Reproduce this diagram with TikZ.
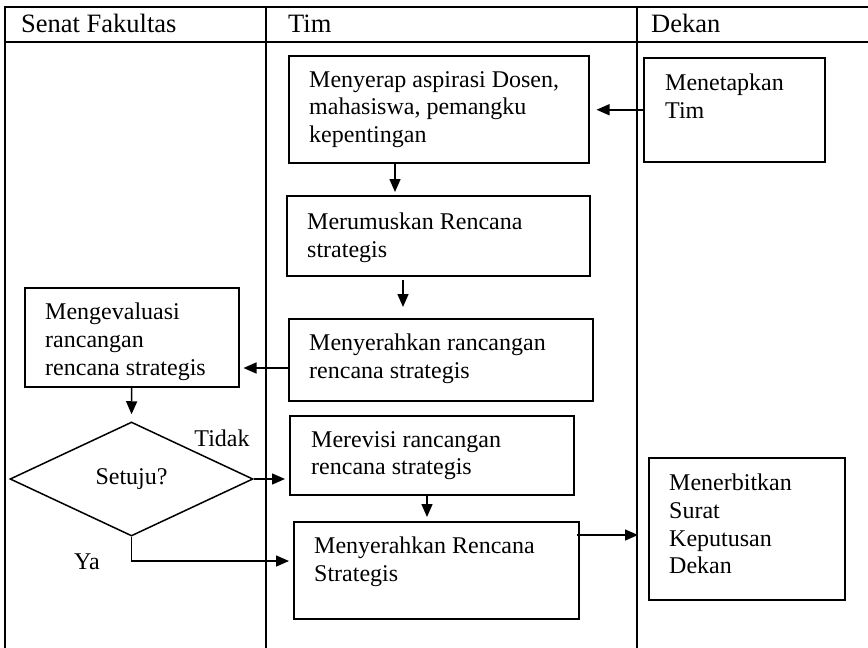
\documentclass[tikz,border=0pt]{standalone}
\usepackage{fontspec}
\setmainfont{Liberation Serif}
\usetikzlibrary{arrows.meta,shapes.geometric}

\tikzset{
  lane/.style={line width=2pt, line cap=rect},
  box/.style={draw, line width=1.5pt, rectangle, inner sep=0pt, anchor=north west},
  txt/.style={inner sep=0pt, align=left, anchor=north west,
              font=\fontsize{24}{27.6}\selectfont},
  head/.style={inner sep=0pt, anchor=base west,
               font=\fontsize{26.5}{30}\selectfont},
  arr/.style={line width=1.5pt, -{Triangle[length=13pt,width=11pt]}},
}

\begin{document}
\begin{tikzpicture}[x=1pt,y=-1pt]
\useasboundingbox (0,0) rectangle (868,648);

% swimlane table
\draw[lane] (5,7) -- (868,7);
\draw[lane] (5,42) -- (868,42);
\draw[lane] (5,7) -- (5,648);
\draw[lane] (266,7) -- (266,648);
\draw[lane] (637,7) -- (637,648);

\node[head] (hsenat) at (21,32) {Senat Fakultas};
\node[head] (htim)   at (288,32) {Tim};
\node[head] (hdekan) at (651,32) {Dekan};

% boxes
\node[box, minimum width=300, minimum height=107] (serap)   at (288,55)  {};
\node[box, minimum width=303, minimum height=80]  (rumus)   at (286,195) {};
\node[box, minimum width=304, minimum height=82]  (serah)   at (288,318) {};
\node[box, minimum width=284, minimum height=79]  (revisi)  at (289,415) {};
\node[box, minimum width=285, minimum height=97]  (rencana) at (293,521) {};
\node[box, minimum width=214, minimum height=99]  (evaluasi) at (24,287) {};
\node[box, minimum width=181, minimum height=104] (tetap)   at (643,57)  {};
\node[box, minimum width=196, minimum height=142] (terbit)  at (648,457) {};

\node[draw, line width=1.5pt, diamond, inner sep=0pt, aspect=2.13,
      minimum width=243, minimum height=114,
      font=\fontsize{24}{27.6}\selectfont] (setuju) at (131.5,479) {Setuju?};

% box texts, first baseline about 32 below the box top
\node[txt] (tserap) at ([shift={(21,16)}]serap.north west)
  {Menyerap aspirasi Dosen,\\mahasiswa, pemangku\\kepentingan};
\node[txt] (trumus) at ([shift={(21,18)}]rumus.north west)
  {Merumuskan Rencana\\strategis};
\node[txt] (tserah) at ([shift={(21,16)}]serah.north west)
  {Menyerahkan rancangan\\rencana strategis};
\node[txt] (trevisi) at ([shift={(22,16)}]revisi.north west)
  {Merevisi rancangan\\rencana strategis};
\node[txt] (trencana) at ([shift={(21,16)}]rencana.north west)
  {Menyerahkan Rencana\\Strategis};
\node[txt] (tevaluasi) at ([shift={(21,16)}]evaluasi.north west)
  {Mengevaluasi\\rancangan\\rencana strategis};
\node[txt] (ttetap) at ([shift={(22,17)}]tetap.north west)
  {Menetapkan\\Tim};
\node[txt] (tterbit) at ([shift={(21,17)}]terbit.north west)
  {Menerbitkan\\Surat\\Keputusan\\Dekan};

% branch labels
\node[font=\fontsize{24}{27.6}\selectfont, inner sep=0pt] (tidak) at (222,438) {Tidak};
\node[font=\fontsize{24}{27.6}\selectfont, inner sep=0pt] (ya) at (87,562) {Ya};

% connectors
\coordinate (xa) at (395,0);
\coordinate (xb) at (403,0);
\coordinate (xc) at (427,0);
\coordinate (yd) at (0,535);
\coordinate (ye) at (0,561);

\draw[arr, shorten >=7pt] (tetap.west) -- (tetap.west -| serap.east);
\draw[arr, shorten >=3pt] (serap.south -| xa) -- (rumus.north -| xa);
\draw[arr, shorten <=3pt, shorten >=11pt] (rumus.south -| xb) -- (serah.north -| xb);
\draw[arr, shorten >=4pt] (serah.west |- 0,368) -- (evaluasi.east |- 0,368);
\draw[arr, shorten >=7pt] (evaluasi.south) -- (setuju.north);
\draw[arr, shorten >=4pt] (setuju.east) -- (setuju.east -| revisi.west);
\draw[arr, shorten >=4pt] (setuju.south) |- (rencana.west |- ye);
\draw[arr, shorten >=4pt] (revisi.south -| xc) -- (rencana.north -| xc);
\draw[arr, shorten <=-3pt, shorten >=10pt] (rencana.east |- yd) -- (terbit.west |- yd);
\end{tikzpicture}
\end{document}
